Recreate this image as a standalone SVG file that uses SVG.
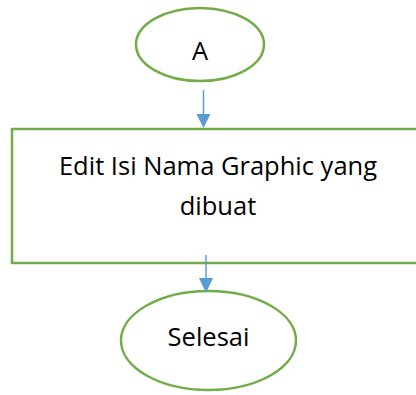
<svg xmlns="http://www.w3.org/2000/svg" width="416" height="395" viewBox="0 0 416 395">
  <style>
    .shape { fill: #ffffff; stroke: #70AD47; stroke-width: 2.5; }
    .label { font-family: "Open Sans", "Liberation Sans", Arial, sans-serif; font-size: 25.5px; fill: #000000; text-anchor: middle; }
    .flow { stroke: #5B9BD5; stroke-width: 1.5; fill: none; }
    .head { fill: #5B9BD5; stroke: none; }
  </style>
  <rect width="416" height="395" fill="#ffffff"/>

  <g id="start">
    <ellipse class="shape" cx="200" cy="44.5" rx="64" ry="36.5"/>
    <text class="label" x="200" y="60">A</text>
  </g>

  <g id="process">
    <rect class="shape" x="12" y="129" width="420" height="134"/>
    <text class="label" x="218" y="175">Edit Isi Nama Graphic yang</text>
    <text class="label" x="218" y="215">dibuat</text>
  </g>

  <g id="end">
    <ellipse class="shape" cx="208.5" cy="340.5" rx="87.5" ry="49.5"/>
    <text class="label" x="208.5" y="346">Selesai</text>
  </g>

  <g id="connectors">
    <line class="flow" x1="203.5" y1="90" x2="203.5" y2="116"/>
    <polygon class="head" points="196.5,114 210.5,114 203.5,128"/>
    <line class="flow" x1="206" y1="255" x2="206" y2="280"/>
    <polygon class="head" points="199,278 213,278 206,293"/>
  </g>
</svg>
